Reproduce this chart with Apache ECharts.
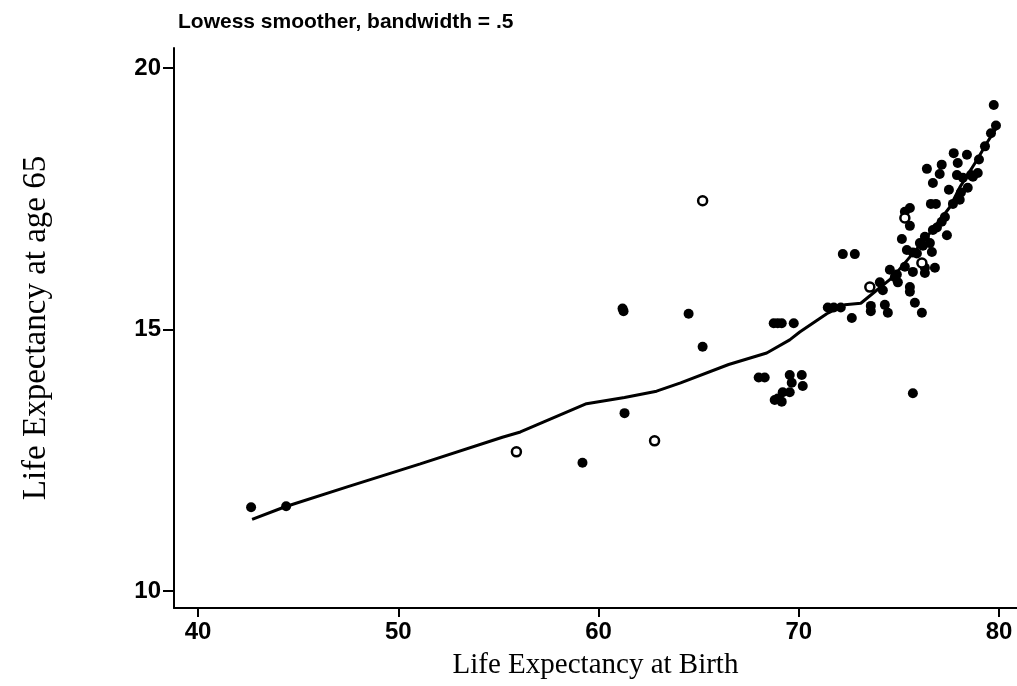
<!DOCTYPE html>
<html>
    <head>
        <meta charset="utf-8">
        <script src="https://cdn.jsdelivr.net/npm/echarts@6.0.0/dist/echarts.min.js"></script>
    </head>
    <body style="margin: 0; background: #fff;">
        <div id="main" style="width: 1017px; height: 686px;"></div>
        <script>
            // tick labels
            var xTicks = [40, 50, 60, 70, 80];
            var yTicks = [10, 15, 20];

            // countries drawn as solid dots [birth, age65]
            var solidPoints = [
                [42.65, 11.6], [44.4, 11.62], [59.2, 12.45], [61.3, 13.4], [61.2, 15.4], [61.25, 15.35],
                [64.5, 15.3], [65.2, 14.67],
                [68.75, 15.12], [68.95, 15.12], [69.15, 15.12], [69.75, 15.12],
                [68.0, 14.08], [68.3, 14.08], [69.55, 14.13], [70.15, 14.13], [70.2, 13.92], [69.65, 13.98],
                [69.2, 13.8], [69.55, 13.8], [68.95, 13.68], [69.15, 13.62], [68.8, 13.65],
                [71.45, 15.42], [71.75, 15.42], [72.1, 15.42], [72.65, 15.22], [72.2, 16.44], [72.8, 16.44],
                [73.6, 15.45], [73.6, 15.35], [75.7, 13.78],
                [74.3, 15.47], [74.45, 15.32], [75.8, 15.51], [76.15, 15.32],
                [74.05, 15.9], [74.55, 16.14], [74.8, 16.0], [74.95, 15.9], [75.55, 15.81], [75.55, 15.72],
                [75.7, 16.1], [76.3, 16.08], [76.8, 16.18], [76.3, 16.18],
                [75.4, 16.52], [75.7, 16.47], [76.65, 16.48], [75.15, 16.73], [76.3, 16.77], [76.55, 16.65],
                [76.05, 16.65], [76.7, 16.9], [77.4, 16.8],
                [75.55, 16.98], [77.14, 17.06], [75.55, 17.32], [75.3, 17.25], [76.6, 17.4], [76.85, 17.4],
                [78.04, 17.48], [77.5, 17.67], [78.44, 17.71], [76.7, 17.8],
                [77.04, 17.97], [77.9, 17.95], [78.2, 17.9], [78.94, 17.99], [78.6, 17.95],
                [76.4, 18.07], [77.14, 18.15], [77.94, 18.18], [77.74, 18.37], [78.4, 18.34],
                [79.0, 18.25], [79.3, 18.5], [79.6, 18.75], [79.85, 18.9], [79.74, 19.29],
                [74.2, 15.75], [74.9, 16.05], [75.3, 16.2], [75.9, 16.45], [76.2, 16.6], [76.9, 16.95],
                [77.3, 17.15], [77.7, 17.4], [78.1, 17.62], [78.7, 17.92]
            ];

            // countries drawn as hollow rings
            var ringPoints = [
                [55.9, 12.66], [62.8, 12.87], [65.2, 17.46], [73.55, 15.81], [75.3, 17.13], [76.15, 16.27]
            ];

            // lowess fit, bandwidth .5
            var lowessLine = [
                [42.7, 11.37], [44.35, 11.61], [47.45, 11.99], [51.1, 12.43], [55.2, 12.94], [56.1, 13.04],
                [59.4, 13.58], [61.3, 13.7], [62.9, 13.82], [64.1, 13.98], [66.5, 14.33], [68.4, 14.55],
                [69.55, 14.8], [70.05, 14.95], [71.4, 15.3], [72.3, 15.47], [73.1, 15.5], [73.8, 15.72],
                [74.7, 16.0], [76.4, 16.77], [77.55, 17.34], [78.05, 17.72], [78.9, 18.24], [79.4, 18.57],
                [79.95, 18.9]
            ];

            var chartDom = document.getElementById('main');
            var myChart = echarts.init(chartDom);
            var option;

            var ink = '#000';
            var sans = 'Liberation Sans';
            var serif = 'Liberation Serif';

            option = {
                backgroundColor: '#fff',
                animation: false,
                title: {
                    text: 'Lowess smoother, bandwidth = .5',
                    left: 173,
                    top: 7,
                    textStyle: { fontFamily: sans, fontSize: 21, fontWeight: 'bold', color: ink }
                },
                grid: {
                    left: 174,
                    right: 0,
                    top: 48,
                    bottom: 78,
                    outerBoundsMode: 'none'
                },
                xAxis: {
                    type: 'value',
                    min: 38.8,
                    max: 80.9,
                    name: 'Life Expectancy at Birth',
                    nameLocation: 'middle',
                    nameGap: 43,
                    nameTextStyle: { fontFamily: serif, fontSize: 29, color: ink },
                    splitLine: { show: false },
                    axisLine: { show: true, onZero: false, lineStyle: { color: ink, width: 2 } },
                    axisTick: { show: true, length: 9, customValues: xTicks, lineStyle: { color: ink, width: 2 } },
                    axisLabel: {
                        customValues: xTicks,
                        margin: 12,
                        fontFamily: sans, fontSize: 24, fontWeight: 'bold', color: ink
                    }
                },
                yAxis: {
                    type: 'value',
                    min: 9.675,
                    max: 20.38,
                    name: 'Life Expectancy at age 65',
                    nameLocation: 'middle',
                    nameGap: 121,
                    nameTextStyle: { fontFamily: serif, fontSize: 33, color: ink },
                    splitLine: { show: false },
                    axisLine: { show: true, onZero: false, lineStyle: { color: ink, width: 2 } },
                    axisTick: { show: true, length: 11, customValues: yTicks, lineStyle: { color: ink, width: 2 } },
                    axisLabel: {
                        customValues: yTicks,
                        margin: 13,
                        fontFamily: sans, fontSize: 24, fontWeight: 'bold', color: ink
                    }
                },
                series: [
                    {
                        name: 'lowess',
                        type: 'line',
                        data: lowessLine,
                        showSymbol: false,
                        lineStyle: { color: ink, width: 3 },
                        z: 3
                    },
                    {
                        name: 'solid',
                        type: 'scatter',
                        data: solidPoints,
                        symbolSize: 10,
                        itemStyle: { color: ink, opacity: 1 },
                        z: 4
                    },
                    {
                        name: 'ring',
                        type: 'scatter',
                        data: ringPoints,
                        symbolSize: 9,
                        itemStyle: { color: '#fff', borderColor: ink, borderWidth: 2.5, opacity: 1 },
                        z: 5
                    }
                ]
            };

            option && myChart.setOption(option);
        </script>
    </body>
</html>
